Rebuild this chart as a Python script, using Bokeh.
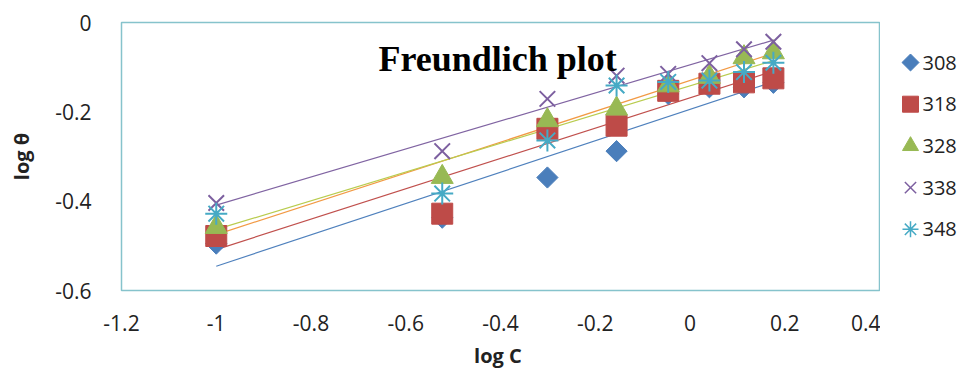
import numpy as np
from bokeh.plotting import figure
from bokeh.layouts import row
from bokeh.models import Range1d, FixedTicker, CustomJSTickFormatter, Label, ColumnDataSource
from bokeh.core.properties import value
from bokeh.embed import file_html
from bokeh.resources import INLINE

# ---- data ----
log_c = [-1.0, -0.523, -0.301, -0.155, -0.046, 0.041, 0.114, 0.176]
t308 = [-0.495, -0.437, -0.347, -0.288, -0.160, -0.145, -0.145, -0.135]
t318 = [-0.478, -0.428, -0.238, -0.231, -0.153, -0.137, -0.134, -0.125]
t328 = [-0.458, -0.346, -0.219, -0.193, -0.141, -0.122, -0.078, -0.067]
t338 = [-0.404, -0.288, -0.171, -0.119, -0.115, -0.091, -0.060, -0.043]
t348 = [-0.428, -0.383, -0.264, -0.141, -0.133, -0.130, -0.111, -0.090]
series_names = ["308", "318", "328", "338", "348"]
x_ticks = [-1.2, -1.0, -0.8, -0.6, -0.4, -0.2, 0.0, 0.2, 0.4]
y_ticks = [-0.6, -0.4, -0.2, 0.0]
title_text = "Freundlich plot"

W_MAIN = 880
FRAME_TOP, FRAME_BOTTOM = 22, 290
p = figure(width=W_MAIN, height=372, output_backend="svg", toolbar_location=None,
           x_range=Range1d(-1.2, 0.4), y_range=Range1d(-0.6, 0.0),
           min_border_left=121, min_border_right=1, min_border_top=FRAME_TOP,
           min_border_bottom=372 - FRAME_BOTTOM)
p.background_fill_color = "white"
p.border_fill_color = "white"
p.outline_line_color = "#86C3CC"
p.outline_line_width = 1.5
p.xgrid.visible = False
p.ygrid.visible = False

fmt = CustomJSTickFormatter(code="return Number(tick.toFixed(1)).toString();")
for ax, ticks in ((p.xaxis[0], x_ticks), (p.yaxis[0], y_ticks)):
    ax.ticker = FixedTicker(ticks=ticks)
    ax.formatter = fmt
    ax.axis_line_color = None
    ax.major_tick_line_color = None
    ax.minor_tick_line_color = None
    ax.major_tick_in = 0
    ax.major_tick_out = 0
    ax.major_label_text_font = "Open Sans"
    ax.major_label_text_font_size = "21px"
    ax.major_label_text_color = "#222222"
    ax.axis_label_text_font = "Open Sans"
    ax.axis_label_text_font_style = "bold"
    ax.axis_label_text_font_size = "20px"
    ax.axis_label_text_color = "#222222"

p.xaxis.major_label_standoff = 24
p.yaxis.major_label_standoff = 30
p.xaxis.axis_label = "log  C"
p.yaxis.axis_label = "log θ"
p.xaxis.axis_label_standoff = 8
p.yaxis.axis_label_standoff = 17

ys = [t308, t318, t328, t338, t348]
mcolors = ["#4A7EBB", "#BE4B48", "#98B954", "#7D60A0", "#46AAC5"]
lcolors = ["#4F81BD", "#C0504D", "#F29A45", "#8064A2", "#B9CC4E"]
markers = ["square", "square", "triangle", "x", "asterisk"]
leg_markers = ["diamond", "square", "triangle", "x", "asterisk"]
angles = [np.pi / 4, 0, 0, 0, 0]
sizes = [15, 21, 22, 22, 22]

# trend lines (least squares fit of each series)
for yv, lc in zip(ys, lcolors):
    m, b = np.polyfit(log_c, yv, 1)
    xs = [log_c[0], log_c[-1]]
    p.line(xs, [m * xv + b for xv in xs], line_color=lc, line_width=1.2)

for yv, mc, mk, ang, sz in zip(ys, mcolors, markers, angles, sizes):
    if mk in ("x", "asterisk"):
        p.scatter(log_c, yv, marker=mk, size=sz, line_color=mc, line_width=2, angle=ang)
    else:
        p.scatter(log_c, yv, marker=mk, size=sz, fill_color=mc, line_color=mc, angle=ang)

p.add_layout(Label(x=-0.406, y=-0.0806, text=title_text, text_align="center",
                   text_baseline="alphabetic", text_font="Liberation Serif",
                   text_font_style="bold", text_font_size="36px", text_color="black"))

# ---- legend panel (its frame is aligned with the main frame; coordinates = page pixels) ----
W_LEG = 975 - W_MAIN
leg = figure(width=W_LEG, height=372, output_backend="svg", toolbar_location=None,
             x_range=Range1d(W_MAIN, 975), y_range=Range1d(FRAME_BOTTOM, FRAME_TOP),
             min_border=0, min_border_top=FRAME_TOP, min_border_bottom=372 - FRAME_BOTTOM,
             outline_line_color=None)
leg.axis.visible = False
leg.xgrid.visible = False
leg.ygrid.visible = False
n = len(series_names)
ly = [62 + i * 41.7 for i in range(n)]
mx = 910
for i in range(n):
    mk = leg_markers[i]
    if mk == "diamond":
        leg.scatter([mx], [ly[i]], marker="square", size=12, angle=np.pi / 4,
                    fill_color=mcolors[i], line_color=mcolors[i])
    elif mk in ("x", "asterisk"):
        leg.scatter([mx], [ly[i]], marker=mk, size=16, line_color=mcolors[i], line_width=1.5)
    else:
        leg.scatter([mx], [ly[i]], marker=mk, size=16, fill_color=mcolors[i], line_color=mcolors[i])
src = ColumnDataSource(dict(x=[mx + 12] * n, y=ly, t=series_names))
leg.text(x="x", y="y", text="t", source=src, text_font=value("Open Sans"),
         text_font_size="20px", text_color="#222222", text_baseline="middle", text_align="left")

open("out.html", "w").write(file_html(row(p, leg), INLINE))
